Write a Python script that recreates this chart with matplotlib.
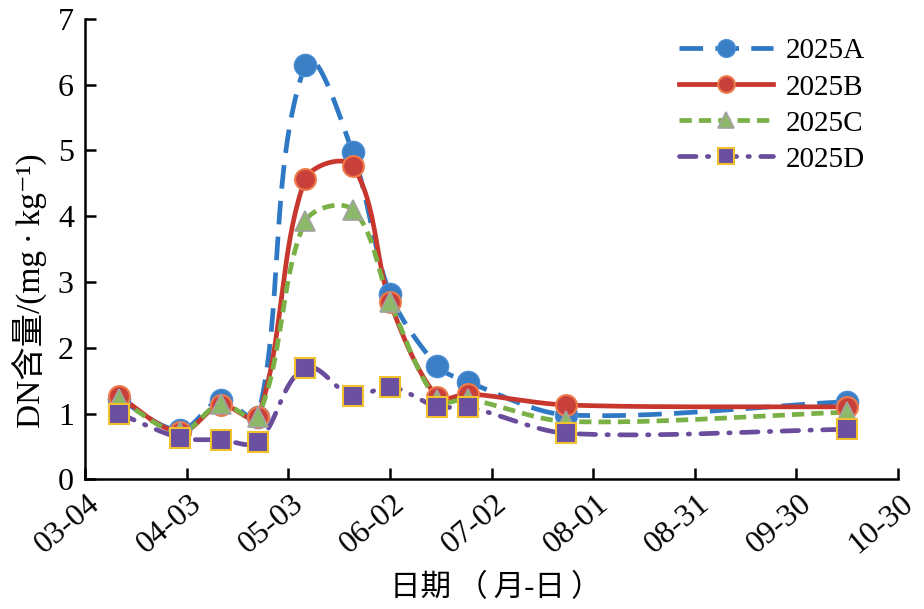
import matplotlib
matplotlib.use('Agg')
import matplotlib.pyplot as plt
import matplotlib.transforms as mtransforms
import numpy as np

plt.rcParams['font.family'] = ['Liberation Serif', 'Noto Sans CJK SC', 'DejaVu Sans']

# sampling days, counted from 03-04
days = [10, 28, 40, 51, 65, 79, 90, 104, 113, 142, 225]
val_a = [1.22, 0.75, 1.20, 0.95, 6.30, 4.97, 2.82, 1.72, 1.48, 0.98, 1.18]
val_b = [1.26, 0.72, 1.13, 0.95, 4.56, 4.76, 2.70, 1.25, 1.30, 1.13, 1.10]
val_c = [1.22, 0.72, 1.15, 0.95, 3.92, 4.10, 2.70, 1.20, 1.22, 0.88, 1.02]
val_d = [1.00, 0.63, 0.60, 0.57, 1.69, 1.26, 1.41, 1.10, 1.10, 0.70, 0.76]

tick_days = [0, 30, 60, 90, 120, 150, 180, 210, 240]
tick_labels = ['03-04', '04-03', '05-03', '06-02', '07-02', '08-01', '08-31', '09-30', '10-30']


def smooth(x, y, sx=3.39, sy=65.7, k=0.3, n=40):
    # smoothed line like a spreadsheet chart (bezier, worked out in pixel space)
    p = np.column_stack([np.asarray(x) * sx, np.asarray(y) * sy])
    m = len(p)
    tang = np.zeros_like(p)
    for i in range(m):
        d = p[min(i + 1, m - 1)] - p[max(i - 1, 0)]
        tang[i] = d / np.hypot(*d)
    t = np.linspace(0, 1, n)[:, None]
    out = []
    for i in range(m - 1):
        p1, p2 = p[i], p[i + 1]
        arm = k * np.hypot(*(p2 - p1))
        c1 = p1 + arm * tang[i]
        c2 = p2 - arm * tang[i + 1]
        seg = (1 - t) ** 3 * p1 + 3 * (1 - t) ** 2 * t * c1 + 3 * (1 - t) * t ** 2 * c2 + t ** 3 * p2
        out.append(seg)
    out = np.vstack(out)
    return out[:, 0] / sx, out[:, 1] / sy


fig = plt.figure(figsize=(9.24, 6.09), dpi=100)
ax = fig.add_axes([0.092, 0.213, 0.880, 0.756])

series = [
    (val_a, '2025A', '#2f78c4', dict(marker='o', ms=16, mfc='#3a7fc6', mec='#4a8fd6', mew=1.0),
     dict(dashes=(5, 2.6))),
    (val_b, '2025B', '#c8372d', dict(marker='o', ms=15, mfc='#c9403a', mec='#ee7a4a', mew=1.5),
     dict(linestyle='-')),
    (val_c, '2025C', '#7ab146', dict(marker='^', ms=15, mfc='#8db86a', mec='#a2a2a2', mew=1.2),
     dict(dashes=(2.6, 1.5))),
    (val_d, '2025D', '#6a4c9c', dict(marker='s', ms=14, mfc='#6b4fa0', mec='#f2c12e', mew=1.5),
     dict(dashes=(3.5, 2.4, 0.3, 2.4), dash_capstyle='round')),
]

for vals, name, col, mk, ls in series:
    sx, sy = smooth(days, vals)
    ax.plot(sx, sy, color=col, lw=3.4, zorder=2, **ls)
    ax.plot(days, vals, linestyle='none', zorder=3, **mk)
    # legend proxy
    ax.plot([], [], color=col, lw=3.4, label=name, **ls, **mk)

ax.set_xlim(0, 240)
ax.set_ylim(0, 7)
ax.set_xticks(tick_days)
ax.set_xticklabels(tick_labels, rotation=40, ha='right', va='top', rotation_mode='anchor')
ax.set_yticks(range(0, 8))
for s in ['top', 'right']:
    ax.spines[s].set_visible(False)
for s in ['left', 'bottom']:
    ax.spines[s].set_linewidth(1.8)
ax.tick_params(axis='both', direction='in', length=8, width=1.8, labelsize=23)
ax.tick_params(axis='x', labelsize=23, pad=7)
ax.tick_params(axis='y', pad=8)
off = mtransforms.ScaledTranslation(0.02, 0, fig.dpi_scale_trans)
for lab in ax.get_xticklabels():
    lab.set_transform(lab.get_transform() + off)

th = '\u2009'
ax.set_xlabel('日期' + th + '（' + th + '月-日' + th + '）', fontsize=22)
ax.xaxis.set_label_coords(0.505, -0.205)
ax.set_ylabel('DN含量/(mg' + th + '·' + th + 'kg⁻¹)', fontsize=24)
ax.yaxis.set_label_coords(-0.047, 0.41)

ax.legend(loc='upper left', bbox_to_anchor=(0.713, 0.99), frameon=False, fontsize=21,
          handlelength=3.2, labelspacing=0.33, handletextpad=0.45, borderpad=0,
          numpoints=1, markerscale=0.8)

fig.savefig('out.png', dpi=100)
